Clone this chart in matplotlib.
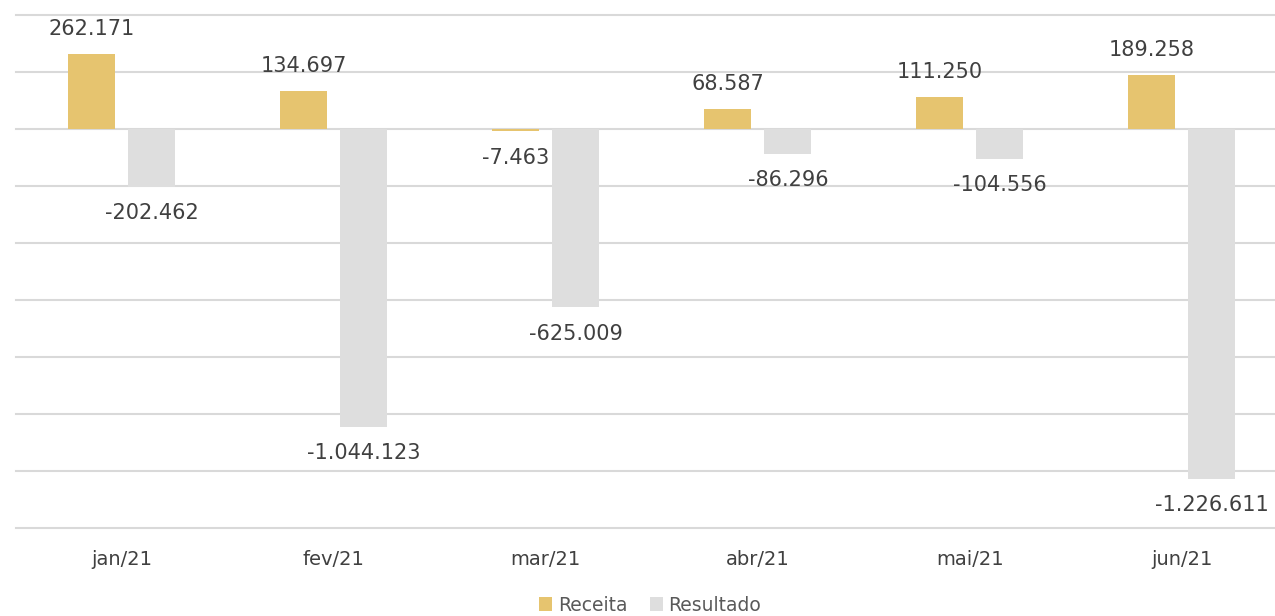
import matplotlib.pyplot as plt
import numpy as np

# data
meses = ['jan/21', 'fev/21', 'mar/21', 'abr/21', 'mai/21', 'jun/21']
receita = [262171, 134697, -7463, 68587, 111250, 189258]
resultado = [-202462, -1044123, -625009, -86296, -104556, -1226611]

cor_receita = '#E6C46F'
cor_resultado = '#DEDEDE'
cor_texto = '#404040'

plt.rcParams['font.family'] = ['DejaVu Sans']

fig = plt.figure(figsize=(12.75, 6.16), dpi=100)
# axes runs a bit past the right edge of the picture, like the original
ax = fig.add_axes([15.75 / 1275, 1 - 528 / 616, 1272 / 1275, (528 - 15) / 616])

x = np.arange(len(meses))
w = 0.222
off = 0.1425

b1 = ax.bar(x - off, receita, w, color=cor_receita, label='Receita', zorder=3)
b2 = ax.bar(x + off, resultado, w, color=cor_resultado, label='Resultado', zorder=3)

def fmt(v):
    return f'{v:,}'.replace(',', '.')

for bars, vals in [(b1, receita), (b2, resultado)]:
    for b, v in zip(bars, vals):
        dy = 18 if v >= 0 else -19
        ax.annotate(fmt(v), (b.get_x() + b.get_width() / 2, v),
                    xytext=(0, dy), textcoords='offset points',
                    ha='center', va='center', fontsize=15, color=cor_texto)

ax.set_xlim(-0.5, len(meses) - 0.5)
ax.set_ylim(-1400000, 400000)
ax.set_yticks(np.arange(-1400000, 400001, 200000))
ax.yaxis.grid(True, color='#D9D9D9', linewidth=1.5, zorder=0)
for gl in ax.get_ygridlines():
    gl.set_clip_on(False)
ax.set_yticklabels([])
ax.tick_params(axis='y', length=0)
ax.tick_params(axis='x', length=0, pad=16, labelsize=14, labelcolor=cor_texto)
ax.set_xticks(x)
ax.set_xticklabels(meses)
for s in ax.spines.values():
    s.set_visible(False)

fig.legend(handles=[b1, b2], loc='lower center', bbox_to_anchor=(0.51, -0.025),
           ncol=2, frameon=False, fontsize=13.5, labelcolor='#595959',
           handlelength=0.7, handleheight=0.7, handletextpad=0.3, columnspacing=1.2)

fig.savefig('out.png', dpi=100)
